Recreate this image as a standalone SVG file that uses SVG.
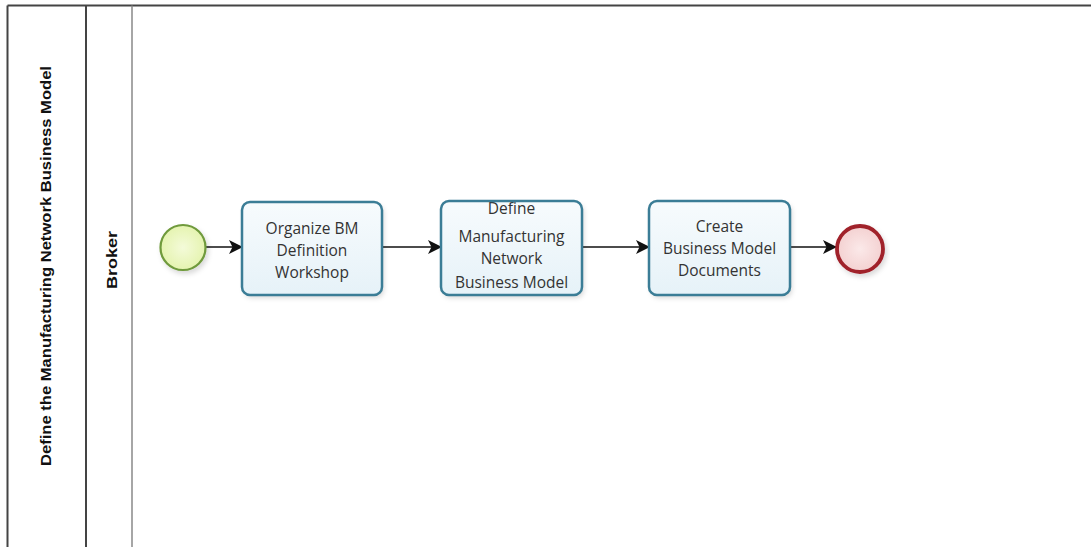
<svg xmlns="http://www.w3.org/2000/svg" width="1091" height="547" viewBox="0 0 1091 547">
  <style>
    .pool { fill: none; stroke: #444; stroke-width: 2; }
    .lane { fill: none; stroke: #888; stroke-width: 1.5; }
    .title { font-family: "Liberation Sans", Arial, sans-serif; font-weight: bold; fill: #111; text-anchor: middle; }
    .task { fill: url(#taskFill); stroke: none; }
    .task-edge { fill: none; stroke: #3b7d96; stroke-width: 2.5; }
    .label { font-family: "Open Sans", "Noto Sans", sans-serif; font-size: 15.5px; fill: #333; text-anchor: middle; }
    .flow { fill: none; stroke: #111; stroke-width: 1.5; marker-end: url(#arrow); }
    .start { fill: url(#startFill); stroke: #6f9a3c; stroke-width: 2.2; }
    .end { fill: url(#endFill); stroke: #a0202a; stroke-width: 3.8; }
  </style>
  <defs>
    <linearGradient id="taskFill" x1="0" y1="0" x2="0" y2="1">
      <stop offset="0" stop-color="#f7fbfd"/>
      <stop offset="1" stop-color="#e6f2f8"/>
    </linearGradient>
    <radialGradient id="startFill" cx="0.5" cy="0.5" r="0.6">
      <stop offset="0" stop-color="#f4fbd9"/>
      <stop offset="1" stop-color="#e2f2a8"/>
    </radialGradient>
    <radialGradient id="endFill" cx="0.5" cy="0.5" r="0.6">
      <stop offset="0" stop-color="#fbe9e9"/>
      <stop offset="1" stop-color="#f2cccc"/>
    </radialGradient>
    <filter id="shadow" x="-10%" y="-10%" width="125%" height="130%">
      <feDropShadow dx="2" dy="3" stdDeviation="2.5" flood-color="#000" flood-opacity="0.15"/>
    </filter>
    <marker id="arrow" viewBox="0 0 14 14" refX="13" refY="7" markerWidth="14" markerHeight="14" markerUnits="userSpaceOnUse" orient="auto">
      <path d="M0,0 L14,7 L0,14 L3.5,7 Z" fill="#111"/>
    </marker>
  </defs>

  <!-- pool and lane frame -->
  <g id="pool">
    <line class="pool" x1="7.5" y1="5.5" x2="1091" y2="5.5"/>
    <line class="pool" x1="7.5" y1="5.5" x2="7.5" y2="547"/>
    <line class="pool" x1="86" y1="5.5" x2="86" y2="547"/>
    <line class="lane" x1="132" y1="5.5" x2="132" y2="547"/>
    <text class="title" font-size="14.5" transform="translate(51,266) rotate(-90)" textLength="400" lengthAdjust="spacingAndGlyphs">Define the Manufacturing Network Business Model</text>
  </g>
  <g id="lane-broker">
    <text class="title" font-size="15.5" transform="translate(117,260) rotate(-90)" textLength="58" lengthAdjust="spacingAndGlyphs">Broker</text>
  </g>

  <!-- sequence flows -->
  <g id="connectors">
    <path class="flow" d="M206,247 L242,247"/>
    <path class="flow" d="M382,247 L441,247"/>
    <path class="flow" d="M582,247 L649,247"/>
    <path class="flow" d="M790,247 L836,247"/>
  </g>

  <g id="start">
    <circle class="start" cx="183" cy="247.5" r="22.5" filter="url(#shadow)"/>
  </g>

  <g id="task-organize">
    <rect class="task" x="242" y="202" width="140" height="93" rx="8" filter="url(#shadow)"/>
    <text class="label" x="312" y="234">Organize BM</text>
    <text class="label" x="312" y="256">Definition</text>
    <text class="label" x="312" y="278">Workshop</text>
    <rect class="task-edge" x="242" y="202" width="140" height="93" rx="8"/>
  </g>

  <!-- first label line runs into the top edge, so the edge is stroked over the text -->
  <g id="task-define">
    <rect class="task" x="441" y="201" width="141" height="94" rx="8" filter="url(#shadow)"/>
    <text class="label" x="511.5" y="213.5">Define</text>
    <text class="label" x="511.5" y="242">Manufacturing</text>
    <text class="label" x="511.5" y="264">Network</text>
    <text class="label" x="511.5" y="288">Business Model</text>
    <rect class="task-edge" x="441" y="201" width="141" height="94" rx="8"/>
  </g>

  <g id="task-create">
    <rect class="task" x="649" y="201" width="141" height="94" rx="8" filter="url(#shadow)"/>
    <text class="label" x="719.5" y="232">Create</text>
    <text class="label" x="719.5" y="254">Business Model</text>
    <text class="label" x="719.5" y="276">Documents</text>
    <rect class="task-edge" x="649" y="201" width="141" height="94" rx="8"/>
  </g>

  <g id="end">
    <circle class="end" cx="860" cy="249" r="23" filter="url(#shadow)"/>
  </g>
</svg>
